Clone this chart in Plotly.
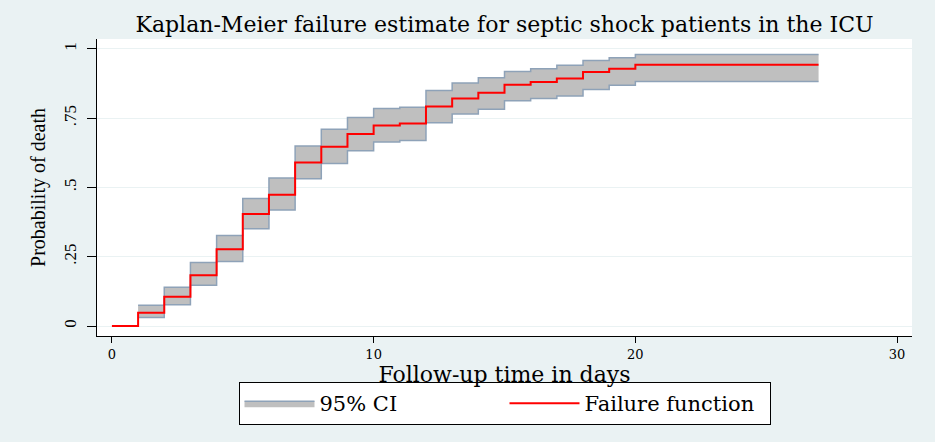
import plotly.graph_objects as go

# Kaplan-Meier failure estimate (days, cumulative probability of death)
km_time = [0, 1, 2, 3, 4, 5, 6, 7, 8, 9, 10, 11, 12, 13, 14, 15, 16, 17, 18, 19, 20, 27]
km_fail = [0, 0.048, 0.106, 0.183, 0.277, 0.404, 0.474, 0.590, 0.647, 0.693, 0.724,
           0.731, 0.792, 0.821, 0.842, 0.871, 0.881, 0.893, 0.917, 0.929, 0.943, 0.943]

# 95% confidence band (starts at day 1)
ci_time = [1, 2, 3, 4, 5, 6, 7, 8, 9, 10, 11, 12, 13, 14, 15, 16, 17, 18, 19, 20, 27]
ci_upper = [0.075, 0.140, 0.229, 0.327, 0.460, 0.534, 0.650, 0.710, 0.753, 0.785, 0.790,
            0.850, 0.877, 0.896, 0.919, 0.929, 0.941, 0.958, 0.968, 0.980, 0.980]
ci_lower = [0.031, 0.077, 0.147, 0.233, 0.351, 0.419, 0.532, 0.587, 0.633, 0.664, 0.670,
            0.734, 0.765, 0.782, 0.813, 0.821, 0.830, 0.854, 0.869, 0.883, 0.883]

x_ticks = [0, 10, 20, 30]
y_ticks = [0, 0.25, 0.5, 0.75, 1]
y_ticklabels = ['0', '.25', '.5', '.75', '1']

bg = '#eaf2f3'
edge = '#8ea2b8'

fig = go.Figure()

fig.add_trace(go.Scatter(
    x=ci_time, y=ci_lower, mode='lines', line=dict(color=edge, width=1.5, shape='hv'),
    showlegend=False, hoverinfo='skip'
))
fig.add_trace(go.Scatter(
    x=ci_time, y=ci_upper, mode='lines', line=dict(color=edge, width=1.5, shape='hv'),
    fill='tonexty', fillcolor='#bfbfbf', name='95% CI'
))
fig.add_trace(go.Scatter(
    x=km_time, y=km_fail, mode='lines', line=dict(color='#ff0000', width=2, shape='hv'),
    name='Failure function'
))

fig.update_layout(
    width=935, height=442,
    margin=dict(l=97, r=23, t=39, b=106),
    paper_bgcolor=bg, plot_bgcolor='white',
    font=dict(family='DejaVu Serif', color='black'),
    title=dict(text='Kaplan-Meier failure estimate for septic shock patients in the ICU',
               x=0.5, xref='paper', xanchor='center', y=0.945, yanchor='middle',
               font=dict(family='DejaVu Serif', size=22, color='black')),
    xaxis=dict(range=[-0.57, 30.57], tickvals=x_ticks, ticks='outside', ticklen=6,
               tickcolor='black', showline=True, linecolor='black', linewidth=1,
               showgrid=False, zeroline=False,
               tickfont=dict(family='DejaVu Serif', size=13),
               title=dict(text='Follow-up time in days', standoff=0,
                          font=dict(family='DejaVu Serif', size=22))),
    yaxis=dict(range=[-0.036, 1.036], tickvals=y_ticks, ticktext=y_ticklabels,
               tickangle=-90, ticks='outside', ticklen=9, tickcolor='black',
               showline=True, linecolor='black', linewidth=1,
               showgrid=True, gridcolor=bg, gridwidth=1, zeroline=False,
               tickfont=dict(family='Liberation Serif', size=17),
               ticklabelstandoff=4,
               title=dict(text='Probability of death', standoff=10,
                          font=dict(family='Liberation Serif', size=20))),
    legend=dict(orientation='h', x=0.5, xanchor='center', y=-0.155, yanchor='top',
                traceorder='normal', entrywidth=180,
                bgcolor='white', bordercolor='black', borderwidth=1,
                itemwidth=70, font=dict(family='DejaVu Serif', size=21)),
    showlegend=True,
)

fig.write_html('out.html', config={'displayModeBar': False},
               post_script="document.body.style.margin='0';")
